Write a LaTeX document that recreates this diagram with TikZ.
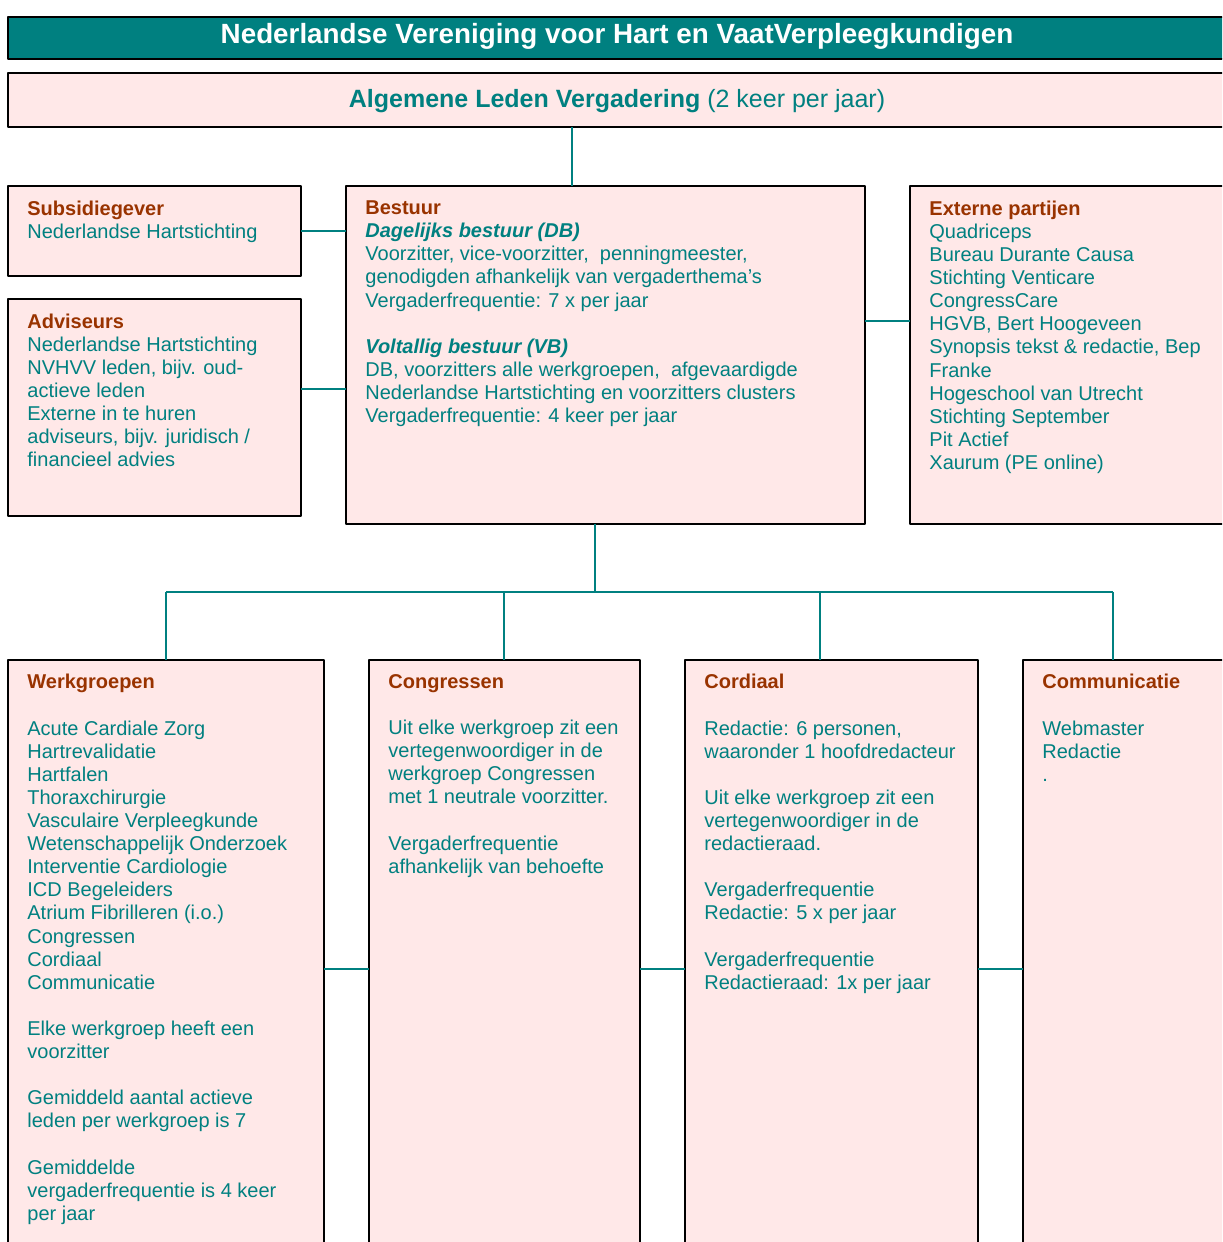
\documentclass[tikz,border=0pt]{standalone}
\usepackage{fontspec}
\setmainfont{Liberation Sans}
\definecolor{nvteal}{RGB}{0,128,128}
\definecolor{nvpink}{RGB}{255,232,232}
\definecolor{nvbrown}{RGB}{153,51,0}
\newcommand{\kop}[1]{\textbf{\textcolor{nvbrown}{#1}}}
\newcommand{\sub}[1]{\textbf{\itshape #1}}
\begin{document}
\begin{tikzpicture}[x=0.5pt,y=-0.5pt,line join=round,line cap=butt,
	vak/.style={draw=black,line width=1pt,fill=nvpink,anchor=north west,inner sep=0pt,outer sep=0pt},
	tekst/.style={anchor=north west,inner sep=0pt,align=left,text=nvteal,font=\fontsize{10}{11.55}\selectfont},
	lijn/.style={draw=nvteal,line width=1pt}]
	\useasboundingbox (0,0) rectangle (1222,1242);
	\clip (0,0) rectangle (1222,1242);
	% kop en ALV
	\node[vak,fill=nvteal,minimum width=609pt,minimum height=21pt] (titel) at (8,17) {};
	\node[font=\fontsize{13.9}{17}\selectfont\bfseries,text=white,anchor=base] (titeltxt) at (617,43) {Nederlandse Vereniging voor Hart en VaatVerpleegkundigen};
	\node[vak,minimum width=609pt,minimum height=27pt] (alv) at (8,73) {};
	\node[font=\fontsize{12.5}{15}\selectfont,text=nvteal,anchor=base] (alvtxt) at (617,107) {\textbf{Algemene Leden Vergadering} (2 keer per jaar)};
	% middelste rij
	\node[vak,minimum width=146.5pt,minimum height=45pt] (subsidie) at (8,186) {};
	\node[vak,minimum width=146.5pt,minimum height=108.5pt] (adviseurs) at (8,299) {};
	\node[vak,minimum width=259.5pt,minimum height=169pt] (bestuur) at (346,186) {};
	\node[vak,minimum width=158pt,minimum height=169pt] (extern) at (910,186) {};
	\node[tekst] (subsidietxt) at ([shift={(19,14.5)}]subsidie.north west) {\kop{Subsidiegever}\\Nederlandse Hartstichting};
	\node[tekst] (adviseurstxt) at ([shift={(19,14.5)}]adviseurs.north west) {\kop{Adviseurs}\\Nederlandse Hartstichting\\NVHVV leden, bijv. oud-\\actieve leden\\Externe in te huren\\adviseurs, bijv. juridisch /\\financieel advies};
	\node[tekst] (bestuurtxt) at ([shift={(19,14.5)}]bestuur.north west) {\kop{Bestuur}\\\sub{Dagelijks bestuur (DB)}\\Voorzitter, vice-voorzitter,\ \ penningmeester,\\genodigden afhankelijk van vergaderthema’s\\Vergaderfrequentie: 7 x per jaar\\[11.55pt]\sub{Voltallig bestuur (VB)}\\DB, voorzitters alle werkgroepen,\ \ afgevaardigde\\Nederlandse Hartstichting en voorzitters clusters\\Vergaderfrequentie: 4 keer per jaar};
	\node[tekst] (externtxt) at ([shift={(19,14.5)}]extern.north west) {\kop{Externe partijen}\\Quadriceps\\Bureau Durante Causa\\Stichting Venticare\\CongressCare\\HGVB, Bert Hoogeveen\\Synopsis tekst \& redactie, Bep\\Franke\\Hogeschool van Utrecht\\Stichting September\\Pit Actief\\Xaurum (PE online)};
	% onderste rij
	\node[vak,minimum width=158pt,minimum height=320pt] (werk) at (8,660) {};
	\node[vak,minimum width=135.5pt,minimum height=320pt] (congres) at (369,660) {};
	\node[vak,minimum width=146.5pt,minimum height=320pt] (cordiaal) at (685,660) {};
	\node[vak,minimum width=101.5pt,minimum height=320pt] (comm) at (1023,660) {};
	\node[tekst] (werktxt) at ([shift={(19,14)}]werk.north west) {\kop{Werkgroepen}\\[11.55pt]Acute Cardiale Zorg\\Hartrevalidatie\\Hartfalen\\Thoraxchirurgie\\Vasculaire Verpleegkunde\\Wetenschappelijk Onderzoek\\Interventie Cardiologie\\ICD Begeleiders\\Atrium Fibrilleren (i.o.)\\Congressen\\Cordiaal\\Communicatie\\[11.55pt]Elke werkgroep heeft een\\voorzitter\\[11.55pt]Gemiddeld aantal actieve\\leden per werkgroep is 7\\[11.55pt]Gemiddelde\\vergaderfrequentie is 4 keer\\per jaar};
	\node[tekst] (congrestxt) at ([shift={(19,14)}]congres.north west) {\kop{Congressen}\\[11.55pt]Uit elke werkgroep zit een\\vertegenwoordiger in de\\werkgroep Congressen\\met 1 neutrale voorzitter.\\[11.55pt]Vergaderfrequentie\\afhankelijk van behoefte};
	\node[tekst] (cordiaaltxt) at ([shift={(19,14)}]cordiaal.north west) {\kop{Cordiaal}\\[11.55pt]Redactie: 6 personen,\\waaronder 1 hoofdredacteur\\[11.55pt]Uit elke werkgroep zit een\\vertegenwoordiger in de\\redactieraad.\\[11.55pt]Vergaderfrequentie\\Redactie: 5 x per jaar\\[11.55pt]Vergaderfrequentie\\Redactieraad: 1x per jaar};
	\node[tekst] (commtxt) at ([shift={(19,14)}]comm.north west) {\kop{Communicatie}\\[11.55pt]Webmaster\\Redactie\\.};
	% verbindingen
	\coordinate (alvvoet) at (572,127);
	\coordinate (advlijn) at (301,389);
	\coordinate (extlijn) at (865,321);
	\coordinate (splits) at (595,592);
	\coordinate (onder) at (0,969);
	\coordinate (tak1) at (166,592);\coordinate (tak2) at (504,592);\coordinate (tak3) at (820,592);\coordinate (tak4) at (1113,592);
	\draw[lijn] (alvvoet)--(alvvoet |- bestuur.north);
	\draw[lijn] (subsidie.east)--(subsidie.east -| bestuur.west);
	\draw[lijn] (advlijn)--(advlijn -| bestuur.west);
	\draw[lijn] (extlijn)--(extlijn -| extern.west);
	\draw[lijn] (splits |- bestuur.south)--(splits);
	\draw[lijn] (tak1)--(tak4);
	\foreach \t/\v in {tak1/werk,tak2/congres,tak3/cordiaal,tak4/comm} \draw[lijn] (\t)--(\t |- \v.north);
	\draw[lijn] (werk.east |- onder)--(congres.west |- onder) (congres.east |- onder)--(cordiaal.west |- onder) (cordiaal.east |- onder)--(comm.west |- onder);
\end{tikzpicture}
\end{document}
